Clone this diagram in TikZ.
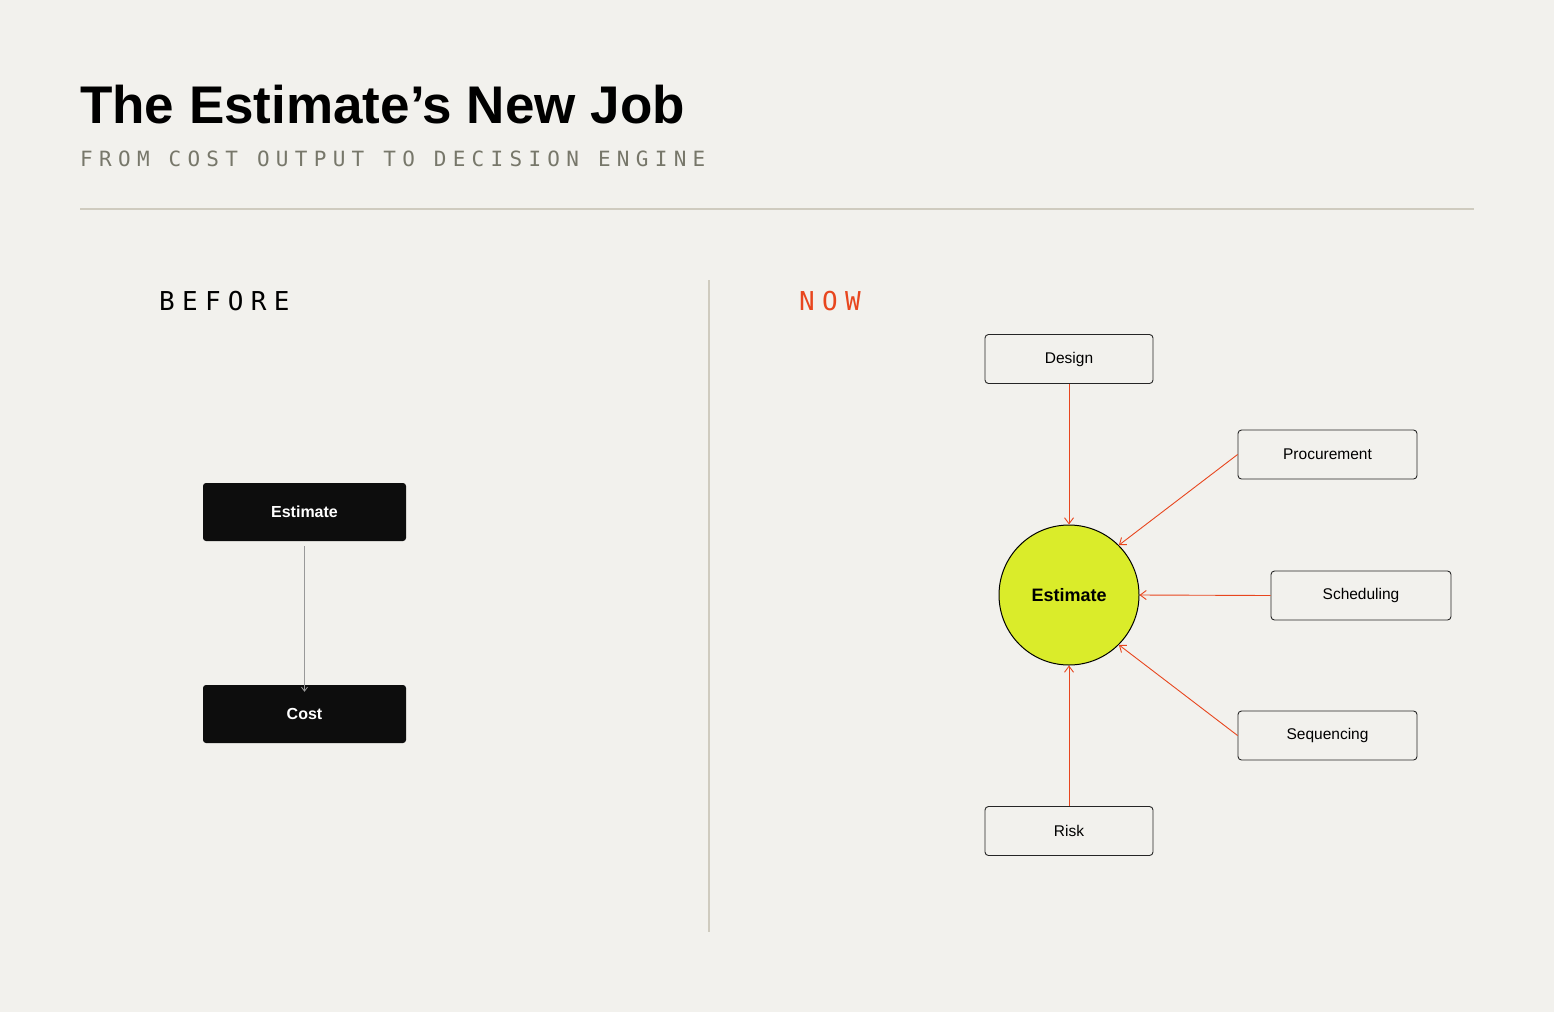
\documentclass[tikz,border=0pt]{standalone}
\usepackage{fontspec}
\setmainfont{Liberation Sans}
\newfontfamily\monof[LetterSpace=30]{DejaVu Sans Mono}
\newfontfamily\monob[LetterSpace=28]{DejaVu Sans Mono}
\usetikzlibrary{arrows.meta}
\definecolor{bg}{HTML}{F2F1ED}
\definecolor{org}{HTML}{E8461E}
\definecolor{lime}{HTML}{DAEC2A}
\definecolor{sub}{HTML}{77776A}
\definecolor{rulec}{HTML}{CFCBBF}
\begin{document}
\begin{tikzpicture}[x=1pt,y=-1pt,
 dark/.style={draw=none,fill=black!95,rounded corners=3pt,minimum width=203pt,minimum height=58pt,text=white,font=\fontsize{16}{18}\selectfont\bfseries},
 box/.style={draw=black!85,line width=0.9pt,fill=bg,rounded corners=3.5pt,minimum height=49pt,font=\fontsize{15.5}{18}\selectfont},
 oarr/.style={draw=org,line width=0.9pt,-{Straight Barb[length=6pt,width=9pt]}}]
\fill[bg] (0,0) rectangle (1554,1012);
\useasboundingbox (0,0) rectangle (1554,1012);
\node[anchor=base west,inner sep=0,font=\fontsize{53}{60}\selectfont\bfseries] (title) at (80,123) {The Estimate's New Job};
\node[anchor=base west,inner sep=0,text=sub,font=\fontsize{21}{24}\monof] (sub) at (80,166) {FROM COST OUTPUT TO DECISION ENGINE};
\draw[rulec,line width=1.5pt] (80,209) -- (1474,209);
\draw[rulec,line width=1.2pt] (709,280) -- (709,932);
\node[anchor=base west,inner sep=0,font=\fontsize{26}{30}\monob] (before) at (159,310) {BEFORE};
\node[anchor=base west,inner sep=0,text=org,font=\fontsize{26}{30}\monob] (now) at (799,310) {NOW};
\node[dark] (est) at (304.5,512) {Estimate};
\node[dark] (cost) at (304.5,714) {Cost};
\draw[gray!80,line width=0.8pt,-{Straight Barb[length=4pt,width=6pt]}] (est.south)++(0,5) coordinate (a) (a) -- ([yshift=-7pt]cost.north);
\node[circle,draw=black,line width=1pt,fill=lime,minimum size=140pt,font=\fontsize{18}{20}\selectfont\bfseries] (c) at (1069,595) {Estimate};
\node[box,minimum width=168pt] (design) at (1069,359) {Design};
\node[box,minimum width=179pt] (proc) at (1327.5,454.5) {Procurement};
\node[box,minimum width=180pt] (sched) at (1361,595.5) {Scheduling};
\node[box,minimum width=179pt] (seq) at (1327.5,735.5) {Sequencing};
\node[box,minimum width=168pt] (risk) at (1069,831) {Risk};
\draw[oarr] (design.south) -- (c.north);
\draw[oarr] (proc.west) -- (c.45);
\draw[oarr] (sched.west) -- (c.east);
\draw[oarr] (seq.west) -- (c.-45);
\draw[oarr] (risk.north) -- (c.south);
\end{tikzpicture}
\end{document}
